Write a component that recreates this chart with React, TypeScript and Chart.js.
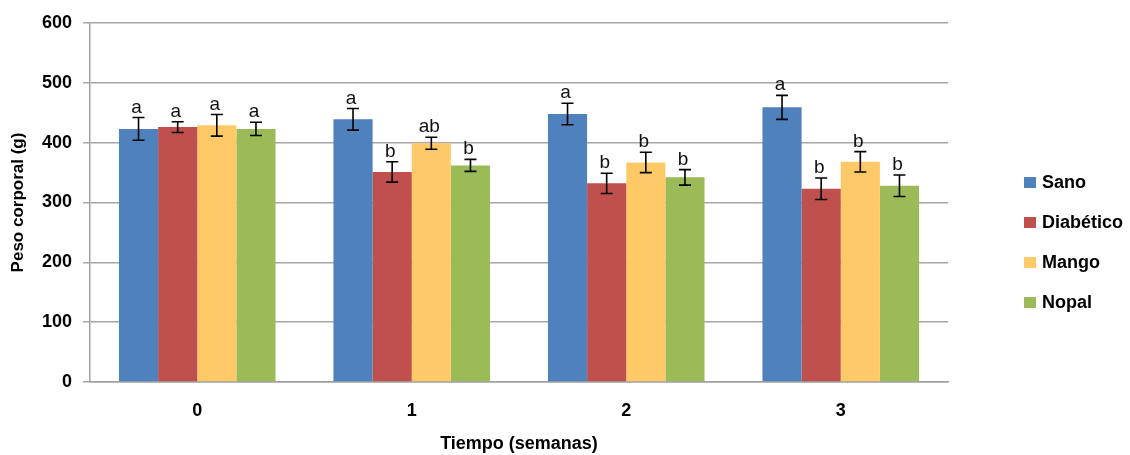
import React, { useEffect, useRef } from "react";
import { Chart, registerables } from "chart.js";

Chart.register(...registerables);

const categories = ["0", "1", "2", "3"];
const seriesNames = ["Sano", "Diabético", "Mango", "Nopal"];
const sano = [423, 439, 448, 459];
const diabetico = [426, 351, 332, 323];
const mango = [429, 399, 367, 368];
const nopal = [423, 362, 342, 328];
const sanoErr = [19, 18, 18, 20];
const diabeticoErr = [9, 17, 17, 18];
const mangoErr = [18, 10, 17, 17];
const nopalErr = [11, 10, 13, 18];
const sanoLetters = ["a", "a", "a", "a"];
const diabeticoLetters = ["a", "b", "b", "b"];
const mangoLetters = ["a", "ab", "b", "b"];
const nopalLetters = ["a", "b", "b", "b"];
const seriesColors = ["#4F81BD", "#C0504D", "#FFC967", "#9BBB59"];
const yMin = 0;
const yMax = 600;
const yStep = 100;
const xTitle = "Tiempo (semanas)";
const yTitle = "Peso corporal (g)";

const FONT = "'Liberation Sans', Arial, sans-serif";

const errorsBySeries = [sanoErr, diabeticoErr, mangoErr, nopalErr];
const lettersBySeries = [sanoLetters, diabeticoLetters, mangoLetters, nopalLetters];

const errorBarPlugin = {
  id: "errorBars",
  afterDatasetsDraw(chart: any) {
    const ctx = chart.ctx;
    const yScale = chart.scales.y;
    ctx.save();
    chart.data.datasets.forEach((ds: any, i: number) => {
      const meta = chart.getDatasetMeta(i);
      meta.data.forEach((el: any, j: number) => {
        const v = ds.data[j];
        const e = ds.errors[j];
        const x = el.x;
        const yTop = yScale.getPixelForValue(v + e);
        const yBot = yScale.getPixelForValue(v - e);
        ctx.strokeStyle = "#000";
        ctx.lineWidth = 1.6;
        ctx.beginPath();
        ctx.moveTo(x, yTop);
        ctx.lineTo(x, yBot);
        ctx.moveTo(x - 6, yTop);
        ctx.lineTo(x + 6, yTop);
        ctx.moveTo(x - 6, yBot);
        ctx.lineTo(x + 6, yBot);
        ctx.stroke();
        ctx.fillStyle = "#111";
        ctx.font = `19px ${FONT}`;
        ctx.textAlign = "center";
        ctx.textBaseline = "alphabetic";
        ctx.fillText(ds.letters[j], x - 2, yTop - 5);
      });
    });
    ctx.restore();
  },
};

const legendPlugin = {
  id: "customLegend",
  afterDraw(chart: any) {
    const ctx = chart.ctx;
    ctx.save();
    chart.data.datasets.forEach((ds: any, i: number) => {
      const cy = 183 + i * 40;
      ctx.fillStyle = ds.backgroundColor;
      ctx.fillRect(1024, cy - 6, 12, 11);
      ctx.fillStyle = "#000";
      ctx.font = `bold 18px ${FONT}`;
      ctx.textAlign = "left";
      ctx.textBaseline = "middle";
      ctx.fillText(ds.label, 1042, cy);
    });
    ctx.restore();
  },
};

export default function App() {
  const ref = useRef<HTMLCanvasElement>(null);
  useEffect(() => {
    if (!ref.current) return;
    const values = [sano, diabetico, mango, nopal];
    const chart = new Chart(ref.current, {
      type: "bar",
      data: {
        labels: categories,
        datasets: seriesNames.map((name, i) => ({
          label: name,
          data: values[i],
          errors: errorsBySeries[i],
          letters: lettersBySeries[i],
          backgroundColor: seriesColors[i],
          borderWidth: 0,
          categoryPercentage: 0.73,
          barPercentage: 1.0,
        })) as any,
      },
      options: {
        animation: false,
        responsive: true,
        maintainAspectRatio: false,
        layout: { padding: { top: 23, right: 182, left: 0, bottom: 0 } },
        plugins: {
          legend: { display: false },
          tooltip: { enabled: false },
        },
        scales: {
          x: {
            grid: { display: false, drawTicks: false },
            border: { display: true, color: "#a0a0a0", width: 1.5 },
            ticks: {
              color: "#000",
              font: { family: FONT, size: 18, weight: "bold" },
              padding: 18,
            },
            title: {
              display: true,
              text: xTitle,
              color: "#000",
              font: { family: FONT, size: 18, weight: "bold" },
              padding: { top: 0, bottom: 0 },
            },
            afterFit(scale: any) {
              scale.height = 73;
            },
          },
          y: {
            min: yMin,
            max: yMax,
            ticks: {
              stepSize: yStep,
              color: "#000",
              font: { family: FONT, size: 18, weight: "bold" },
              padding: 11,
            },
            grid: {
              color: "#a6a6a6",
              lineWidth: 1.5,
              drawTicks: true,
              tickLength: 7,
            },
            border: { display: true, color: "#a0a0a0", width: 1.5 },
            title: {
              display: true,
              text: yTitle,
              color: "#000",
              font: { family: FONT, size: 17, weight: "bold" },
              padding: { top: 8, bottom: 0 },
            },
            afterFit(scale: any) {
              scale.width = 90;
            },
          },
        },
      } as any,
      plugins: [errorBarPlugin, legendPlugin],
    });
    return () => chart.destroy();
  }, []);
  return (
    <div style={{ position: "absolute", left: 0, top: 0, width: 1130, height: 455, background: "#fff" }}>
      <canvas ref={ref} />
    </div>
  );
}
